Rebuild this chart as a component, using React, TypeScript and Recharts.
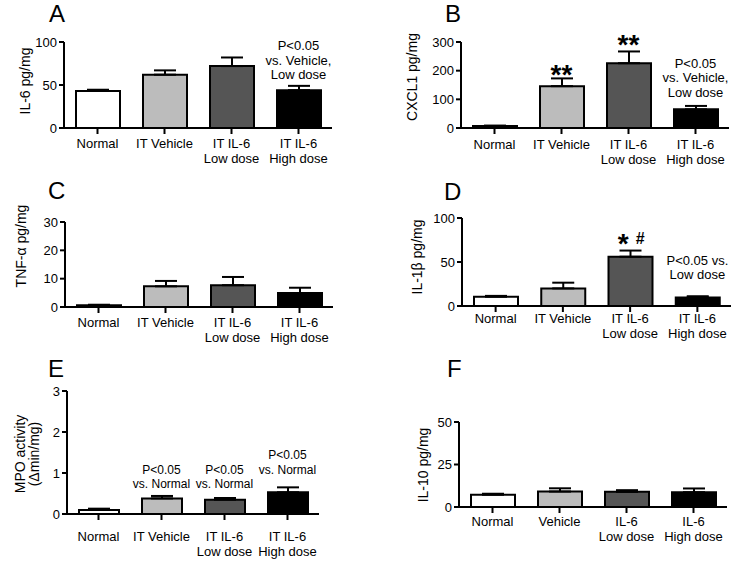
import React from "react"
import { BarChart, Bar, XAxis, YAxis, ErrorBar, Cell, ReferenceDot } from "recharts"

const FONT = "'Liberation Sans', Arial, Helvetica, sans-serif"

// categories
const groupsIT = ["Normal", "IT Vehicle", "IT IL-6\nLow dose", "IT IL-6\nHigh dose"]
const groupsPlain = ["Normal", "Vehicle", "IL-6\nLow dose", "IL-6\nHigh dose"]
const barFills = ["#ffffff", "#bcbcbc", "#555555", "#000000"]

// A - IL-6
const il6Mean = [43, 62, 72, 44]
const il6Sem = [1.5, 5, 10, 5]
const il6Ticks = [0, 50, 100]

// B - CXCL1
const cxcl1Mean = [7, 146, 226, 65]
const cxcl1Sem = [1.5, 27, 41, 12]
const cxcl1Ticks = [0, 100, 200, 300]

// C - TNF-alpha
const tnfMean = [0.6, 7.3, 7.7, 4.9]
const tnfSem = [0.2, 1.9, 2.9, 1.9]
const tnfTicks = [0, 10, 20, 30]

// D - IL-1beta
const il1bMean = [10.5, 20, 56, 9.8]
const il1bSem = [1, 6.5, 7, 1.3]
const il1bTicks = [0, 50, 100]

// E - MPO
const mpoMean = [0.1, 0.38, 0.35, 0.53]
const mpoSem = [0.03, 0.06, 0.04, 0.12]
const mpoTicks = [0, 1, 2, 3]

// F - IL-10
const il10Mean = [7.2, 9.1, 8.9, 8.7]
const il10Sem = [0.6, 1.9, 1, 2.2]
const il10Ticks = [0, 25, 50]

type Annot = { group: number; at: number; lines?: string[]; mark?: "stars" | "starHash"; size?: number }

const annotA: Annot[] = [{ group: 3, at: 79, lines: ["P<0.05", "vs. Vehicle,", "Low dose"] }]
const annotB: Annot[] = [
    { group: 1, at: 206, mark: "stars" },
    { group: 2, at: 312, mark: "stars" },
    { group: 3, at: 175, lines: ["P<0.05", "vs. Vehicle,", "Low dose"] },
]
const annotD: Annot[] = [
    { group: 2, at: 77, mark: "starHash" },
    { group: 3, at: 44, lines: ["P<0.05 vs.", "Low dose"] },
]
const annotE: Annot[] = [
    { group: 1, at: 0.915, lines: ["P<0.05", "vs. Normal"], size: 12 },
    { group: 2, at: 0.915, lines: ["P<0.05", "vs. Normal"], size: 12 },
    { group: 3, at: 1.27, lines: ["P<0.05", "vs. Normal"], size: 12 },
]

interface PanelCfg {
    left: number
    top: number
    width: number
    height: number
    x0: number
    x1: number
    y0: number
    y1: number
    groups: string[]
    mean: number[]
    sem: number[]
    ticks: number[]
    barSize: number
    tickFirst: number
    title: string[]
    titleX: number[]
    titleY: number
    annots: Annot[]
}

const GroupTick = (props: any) => {
    const { x, y, payload, first } = props
    const lines = String(payload.value).split("\n")
    return (
        <text textAnchor="middle" fontSize={13} fill="#000">
            {lines.map((l, i) => (
                <tspan key={i} x={x} y={y - 6 + first + 4.6 + i * 15}>
                    {l}
                </tspan>
            ))}
        </text>
    )
}

function annotLabel(a: Annot) {
    return (props: any) => {
        const vb = props.viewBox
        const cx = vb.x + vb.width / 2
        const cy = vb.y + vb.height / 2
        if (a.mark === "stars") {
            return (
                <text x={cx} y={cy + 15} textAnchor="middle" fontSize={28} fontWeight="bold" fill="#000">
                    **
                </text>
            )
        }
        if (a.mark === "starHash") {
            return (
                <g>
                    <text x={cx - 7} y={cy + 15} textAnchor="middle" fontSize={28} fontWeight="bold" fill="#000">*</text>
                    <text x={cx + 10} y={cy + 6} textAnchor="middle" fontSize={16} fontWeight="bold" fill="#000">#</text>
                </g>
            )
        }
        const lines = a.lines || []
        const n = lines.length
        return (
            <text textAnchor="middle" fontSize={a.size || 13} fill="#000">
                {lines.map((l, i) => (
                    <tspan key={i} x={cx} y={cy + (i - (n - 1) / 2) * 14.5 + 4.6}>
                        {l}
                    </tspan>
                ))}
            </text>
        )
    }
}

function Panel({ cfg }: { cfg: PanelCfg }) {
    const data = cfg.groups.map((name, i) => ({
        name,
        mean: cfg.mean[i],
        err: [0, cfg.sem[i]],
    }))
    const max = cfg.ticks[cfg.ticks.length - 1]
    const titleLabel = () => (
        <g>
            {cfg.title.map((t, i) => (
                <text
                    key={i}
                    x={cfg.titleX[i]}
                    y={cfg.titleY}
                    transform={`rotate(-90, ${cfg.titleX[i]}, ${cfg.titleY})`}
                    textAnchor="middle"
                    dominantBaseline="central"
                    fontSize={14}
                    fill="#000"
                >
                    {t}
                </text>
            ))}
        </g>
    )

    return (
        <div style={{ position: "absolute", left: cfg.left, top: cfg.top }}>
            <BarChart
                width={cfg.width}
                height={cfg.height}
                data={data}
                margin={{ top: cfg.y0 - cfg.top, right: cfg.left + cfg.width - cfg.x1, left: 0, bottom: 0 }}
            >
                <XAxis
                    dataKey="name"
                    height={cfg.top + cfg.height - cfg.y1}
                    interval={0}
                    tickSize={6}
                    tickMargin={0}
                    axisLine={{ stroke: "#000", strokeWidth: 2 }}
                    tickLine={{ stroke: "#000", strokeWidth: 2 }}
                    tick={(p: any) => <GroupTick {...p} first={cfg.tickFirst} />}
                />
                <YAxis
                    width={cfg.x0 - cfg.left}
                    domain={[0, max]}
                    ticks={cfg.ticks}
                    allowDataOverflow
                    tickSize={5}
                    tickMargin={2}
                    axisLine={{ stroke: "#000", strokeWidth: 2 }}
                    tickLine={{ stroke: "#000", strokeWidth: 2 }}
                    tick={{ fontSize: 13, fill: "#000" }}
                    label={titleLabel}
                />
                <Bar
                    dataKey="mean"
                    barSize={cfg.barSize}
                    stroke="#000"
                    strokeWidth={2}
                    isAnimationActive={false}
                >
                    {data.map((d, i) => (
                        <Cell key={`cell-${i}`} fill={barFills[i]} />
                    ))}
                    <ErrorBar dataKey="err" direction="y" width={11} stroke="#000" strokeWidth={2} isAnimationActive={false} />
                </Bar>
                {cfg.annots.map((a, i) => (
                    <ReferenceDot
                        key={i}
                        x={cfg.groups[a.group]}
                        y={a.at}
                        r={1}
                        fill="none"
                        stroke="none"
                        ifOverflow="visible"
                        label={annotLabel(a)}
                    />
                ))}
            </BarChart>
        </div>
    )
}

const panels: PanelCfg[] = [
    {
        left: 0, top: 0, width: 369, height: 180, x0: 64, x1: 332, y0: 42, y1: 128,
        groups: groupsIT, mean: il6Mean, sem: il6Sem, ticks: il6Ticks, barSize: 44, tickFirst: 15,
        title: ["IL-6 pg/mg"], titleX: [25], titleY: 81, annots: annotA,
    },
    {
        left: 369, top: 0, width: 369, height: 180, x0: 461, x1: 729, y0: 42, y1: 128,
        groups: groupsIT, mean: cxcl1Mean, sem: cxcl1Sem, ticks: cxcl1Ticks, barSize: 44, tickFirst: 16,
        title: ["CXCL1 pg/mg"], titleX: [43], titleY: 77, annots: annotB,
    },
    {
        left: 0, top: 180, width: 369, height: 180, x0: 65, x1: 333, y0: 222, y1: 307,
        groups: groupsIT, mean: tnfMean, sem: tnfSem, ticks: tnfTicks, barSize: 44, tickFirst: 15.5,
        title: ["TNF-\u03b1 pg/mg"], titleX: [21], titleY: 66, annots: [],
    },
    {
        left: 369, top: 180, width: 369, height: 180, x0: 462, x1: 731, y0: 218, y1: 306,
        groups: groupsIT, mean: il1bMean, sem: il1bSem, ticks: il1bTicks, barSize: 44, tickFirst: 12,
        title: ["IL-1\u03b2 pg/mg"], titleX: [48], titleY: 77, annots: annotD,
    },
    {
        left: 0, top: 360, width: 369, height: 201, x0: 67, x1: 319, y0: 391, y1: 514,
        groups: groupsIT, mean: mpoMean, sem: mpoSem, ticks: mpoTicks, barSize: 40, tickFirst: 22,
        title: ["MPO activity", "(\u0394min/mg)"], titleX: [20, 34], titleY: 94, annots: annotE,
    },
    {
        left: 369, top: 360, width: 369, height: 201, x0: 459, x1: 727, y0: 422, y1: 507,
        groups: groupsPlain, mean: il10Mean, sem: il10Sem, ticks: il10Ticks, barSize: 44, tickFirst: 14.5,
        title: ["IL-10 pg/mg"], titleX: [54], titleY: 105, annots: [],
    },
]

const panelLetters = ["A", "B", "C", "D", "E", "F"]
const letterPos = [
    [49, 22], [445, 22], [48, 199], [444, 200], [48, 377], [447, 377],
]

export default function App() {
    return (
        <div
            style={{
                position: "absolute",
                left: 0,
                top: 0,
                width: 738,
                height: 561,
                background: "#fff",
                fontFamily: FONT,
                overflow: "hidden",
            }}
        >
            {panels.map((p, i) => (
                <Panel key={i} cfg={p} />
            ))}
            <svg
                width={738}
                height={561}
                style={{ position: "absolute", left: 0, top: 0, pointerEvents: "none" }}
            >
                {panelLetters.map((l, i) => (
                    <text key={l} x={letterPos[i][0]} y={letterPos[i][1]} fontSize={24} fill="#000" fontFamily={FONT}>
                        {l}
                    </text>
                ))}
            </svg>
        </div>
    )
}
